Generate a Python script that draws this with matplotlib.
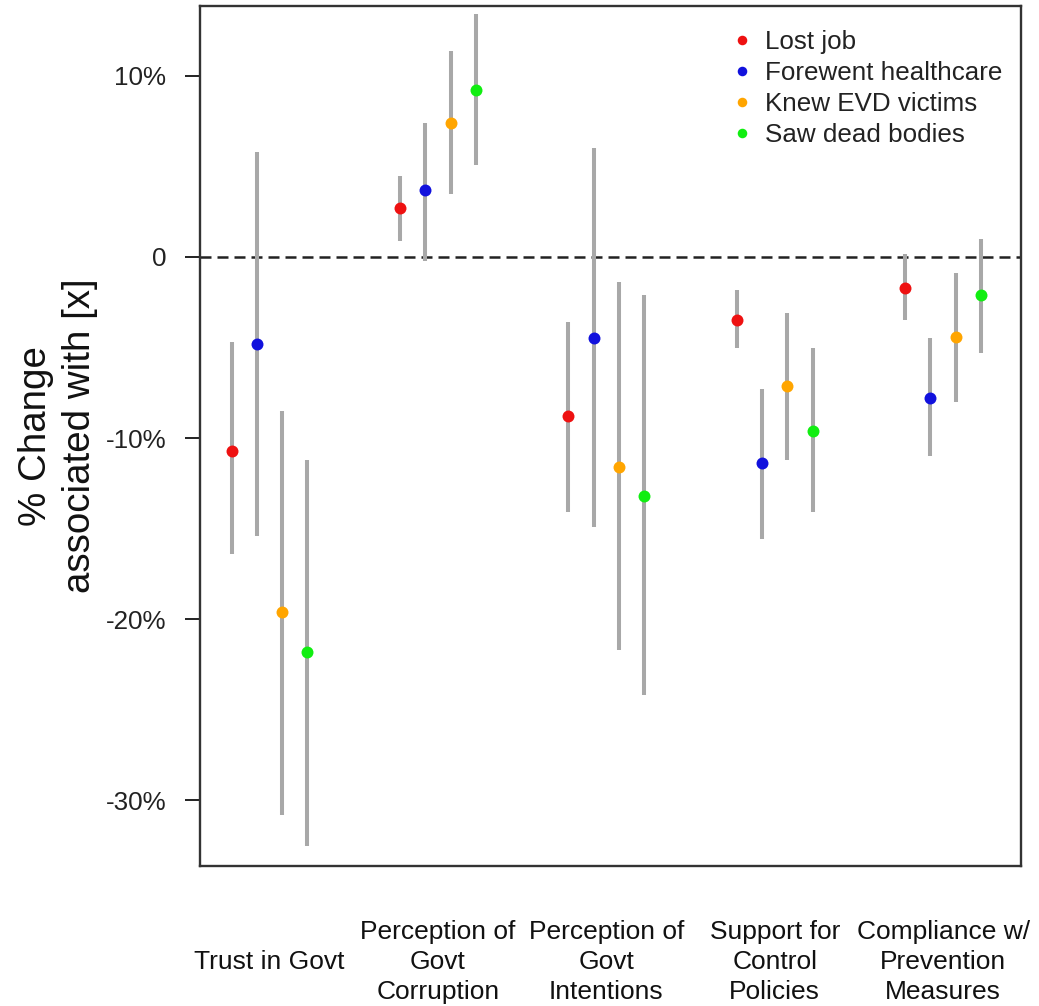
import matplotlib
matplotlib.use("Agg")
import matplotlib.pyplot as plt
import numpy as np

plt.rcParams['font.family'] = ['Liberation Sans', 'DejaVu Sans']

categories = ["Trust in Govt", "Perception of\nGovt\nCorruption", "Perception of\nGovt\nIntentions",
              "Support for\nControl\nPolicies", "Compliance w/\nPrevention\nMeasures"]
series = ["Lost job", "Forewent healthcare", "Knew EVD victims", "Saw dead bodies"]
colors = ["#ee1111", "#1111dd", "#FFA500", "#11ee11"]

# point estimates (%), per series across categories
lost_job_est = [-10.7, 2.7, -8.8, -3.5, -1.7]
lost_job_lo = [-16.4, 0.9, -14.1, -5.0, -3.5]
lost_job_hi = [-4.7, 4.5, -3.6, -1.8, 0.15]

forewent_est = [-4.8, 3.7, -4.5, -11.4, -7.8]
forewent_lo = [-15.4, -0.2, -14.9, -15.6, -11.0]
forewent_hi = [5.8, 7.4, 6.0, -7.3, -4.5]

knew_est = [-19.6, 7.4, -11.6, -7.1, -4.4]
knew_lo = [-30.8, 3.5, -21.7, -11.2, -8.0]
knew_hi = [-8.5, 11.4, -1.4, -3.1, -0.9]

saw_est = [-21.8, 9.2, -13.2, -9.6, -2.1]
saw_lo = [-32.5, 5.1, -24.2, -14.1, -5.3]
saw_hi = [-11.2, 13.4, -2.1, -5.0, 1.0]

ests = [lost_job_est, forewent_est, knew_est, saw_est]
los = [lost_job_lo, forewent_lo, knew_lo, saw_lo]
his = [lost_job_hi, forewent_hi, knew_hi, saw_hi]

yticks = [10, 0, -10, -20, -30]
ytick_labels = ["10%", "0", "-10%", "-20%", "-30%"]

offsets = [-0.225, -0.075, 0.075, 0.225]

fig = plt.figure(figsize=(10.39, 10.06), dpi=100)
ax = fig.add_axes([200/1039, 1 - 866/1006, 821/1039, 860/1006])

xc = np.arange(1, len(categories) + 1)
ax.axhline(0, color="#222222", lw=1.8, ls=(0, (4.4, 2.4)), zorder=1)
for s in range(4):
    xs = xc + offsets[s]
    ax.vlines(xs, los[s], his[s], color="#a8a8a8", lw=2.9, zorder=2)
for s in range(4):
    xs = xc + offsets[s]
    ax.plot(xs, ests[s], 'o', color=colors[s], ms=8.6, mec='none', label=series[s], zorder=3)

ax.set_xlim(0.587, 5.4626)
ax.set_ylim(-33.63, 13.86)
ax.set_yticks(yticks)
ax.set_yticklabels(ytick_labels, fontsize=18.7, color="#222222")
ax.tick_params(axis='y', length=10.8, width=1.4, pad=13.5, color="#222222")
ax.set_xticks(xc)
ax.set_xticklabels(categories, fontsize=19, color="#111111", va='center', linespacing=1.32)
ax.tick_params(axis='x', length=0, pad=69)

for sp in ax.spines.values():
    sp.set_linewidth(1.7)
    sp.set_color("#333333")

ax.set_ylabel("% Change\nassociated with [x]", fontsize=27.7, color="#111111", linespacing=1.3)
ax.yaxis.label.set_va('center')
ax.yaxis.set_label_coords((58 - 200) / 821, 0.5)

leg = ax.legend(loc='upper left', bbox_to_anchor=(0.6476, 0.972), frameon=False,
                fontsize=18.7, handlelength=0.8, handletextpad=0.49, labelspacing=0.27,
                borderpad=0, borderaxespad=0, markerscale=0.8)
for t in leg.get_texts():
    t.set_color("#222222")

fig.savefig("out.png", dpi=100)
